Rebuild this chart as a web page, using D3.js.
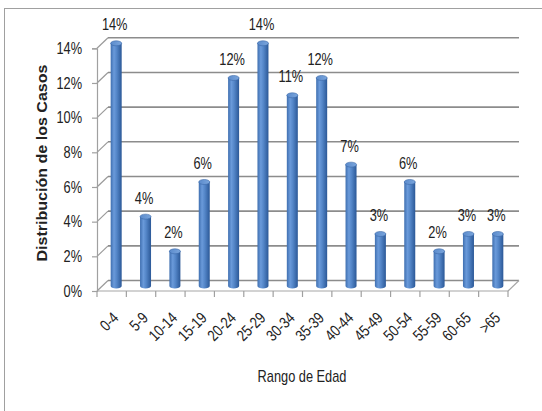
<!DOCTYPE html>
<html><head><meta charset="utf-8">
<script src="https://cdn.jsdelivr.net/npm/d3@7"></script>
<style>
body{margin:0;background:#fff;}
text{font-family:"Liberation Sans",Arial,sans-serif;}
</style></head>
<body><svg id="c" width="542" height="411"></svg>
<script>
const categories = ["0-4","5-9","10-14","15-19","20-24","25-29","30-34","35-39","40-44","45-49","50-54","55-59","60-65",">65"];
const values = [14,4,2,6,12,14,11,12,7,3,6,2,3,3];
const yTicks = [0,2,4,6,8,10,12,14];
const xTitle = "Rango de Edad";
const yTitle = "Distribución de los Casos";

const svg = d3.select("#c");
const dx = 11, dy = -10.5;
const x0 = 97, x1 = 508, yBase = 291, yTop = 48.3;
const sx = 0.8; // horizontal condensation to mimic a narrow face
const fs = 16;

svg.append("rect").attr("x",4.5).attr("y",8.5).attr("width",600).attr("height",500)
  .attr("fill","none").attr("stroke","#a0a0a0").attr("stroke-width",1);

const x = d3.scaleBand().domain(categories).range([x0,x1]).padding(0);
const y = d3.scaleLinear().domain([0,14]).range([yBase,yTop]);

const defs = svg.append("defs");
const g1 = defs.append("linearGradient").attr("id","cyl").attr("x1","0").attr("x2","1").attr("y1","0").attr("y2","0");
[[0,"#3f6fb0"],[0.3,"#6a9ada"],[0.55,"#5486c8"],[1,"#2b5897"]].forEach(s=>g1.append("stop").attr("offset",s[0]).attr("stop-color",s[1]));
const g2 = defs.append("linearGradient").attr("id","cap").attr("x1","0").attr("x2","1");
[[0,"#5b8bcc"],[1,"#7aa5dc"]].forEach(s=>g2.append("stop").attr("offset",s[0]).attr("stop-color",s[1]));

const grid = svg.append("g");
yTicks.forEach(v=>{
  grid.append("line").attr("x1",x0).attr("y1",y(v)).attr("x2",x0+dx).attr("y2",y(v)+dy)
    .attr("stroke","#9a9a9a").attr("stroke-width",1.2);
  grid.append("line").attr("x1",x0+dx).attr("y1",y(v)+dy).attr("x2",x1+dx).attr("y2",y(v)+dy)
    .attr("stroke","#8c8c8c").attr("stroke-width",1.6);
});
grid.append("line").attr("x1",x0).attr("y1",yBase).attr("x2",x1).attr("y2",yBase).attr("stroke","#a6a6a6").attr("stroke-width",1.2);
grid.append("line").attr("x1",x1).attr("y1",yBase).attr("x2",x1+dx).attr("y2",yBase+dy).attr("stroke","#a6a6a6").attr("stroke-width",1.2);

// y axis
const yAxis = svg.append("g").attr("transform",`translate(${x0},0)`)
  .call(d3.axisLeft(y).tickValues(yTicks).tickFormat(d=>d+"%").tickSize(5).tickPadding(10));
yAxis.select(".domain").attr("stroke","#a0a0a0").attr("stroke-width",1.2);
yAxis.selectAll(".tick line").attr("stroke","#a0a0a0").attr("stroke-width",1.2);
yAxis.selectAll(".tick text").attr("font-size",fs).attr("fill","#222")
  .style("font-family",'"Liberation Sans",Arial,sans-serif')
  .attr("x",-15/sx).attr("transform",`scale(${sx},1)`);

// x axis labels
const xAxis = svg.append("g").attr("transform",`translate(0,${yBase})`)
  .call(d3.axisBottom(x).tickSize(0).tickPadding(0));
xAxis.select(".domain").remove();
xAxis.selectAll(".tick text").attr("font-size",fs).attr("fill","#222")
  .style("font-family",'"Liberation Sans",Arial,sans-serif')
  .attr("text-anchor","end").attr("dy","0.35em").attr("y",0)
  .attr("transform",`translate(4,24) rotate(-45) scale(${sx},1)`);
const bounds = categories.map(c=>x(c)).concat([x1]);
svg.append("g").selectAll("line").data(bounds).join("line")
  .attr("x1",d=>d).attr("x2",d=>d).attr("y1",yBase).attr("y2",yBase+6)
  .attr("stroke","#a0a0a0").attr("stroke-width",1.2);

// bars
const bw = 11, ry = 2.5, off = -5;
const bars = svg.append("g").selectAll("g").data(values.map((v,i)=>({v,c:categories[i]}))).join("g");
const cxF = d=>x(d.c)+x.bandwidth()/2+4.5;
bars.append("path").attr("fill","url(#cyl)").attr("d",d=>{
  const cx=cxF(d), yt=y(d.v)+off, yb=y(0)+off;
  return `M${cx-bw/2},${yt} L${cx-bw/2},${yb} A${bw/2},${ry} 0 0 0 ${cx+bw/2},${yb} L${cx+bw/2},${yt} Z`;
});
bars.append("ellipse").attr("cx",cxF).attr("cy",d=>y(d.v)+off).attr("rx",bw/2).attr("ry",ry)
  .attr("fill","url(#cap)").attr("stroke","#3a68a8").attr("stroke-width",0.6);
bars.append("text").attr("transform",d=>`translate(${cxF(d)-1.5},${y(d.v)+off-13}) scale(${sx},1)`)
  .attr("text-anchor","middle").attr("font-size",fs).attr("fill","#222").text(d=>d.v+"%");

// titles
svg.append("text").attr("transform",`translate(302,382) scale(${sx},1)`).attr("text-anchor","middle")
  .attr("font-size",fs).attr("fill","#222").text(xTitle);
svg.append("text").attr("transform","translate(47,163) rotate(-90)").attr("text-anchor","middle")
  .attr("font-size",14).attr("font-weight","bold").attr("fill","#222")
  .attr("textLength",197).attr("lengthAdjust","spacingAndGlyphs").text(yTitle);
</script></body></html>
